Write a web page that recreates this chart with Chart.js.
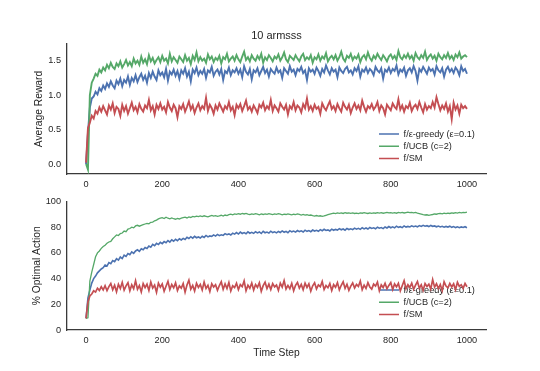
<!DOCTYPE html>
<html><head><meta charset="utf-8">
<script src="https://cdn.jsdelivr.net/npm/chart.js@4"></script>
<style>
html,body{margin:0;padding:0;background:#fff;}
#wrap{position:relative;width:540px;height:371px;overflow:hidden;background:#fff;}
canvas{position:absolute;left:0;}
#c1{top:0;}
#c2{top:190px;}
</style></head><body>
<div id="wrap"><canvas id="c1" width="540" height="190"></canvas><canvas id="c2" width="540" height="181"></canvas></div>
<script>
// ---- categories (time steps) ----
const steps = [
0,5,10,15,20,25,30,35,40,45,50,55,60,65,70,75,80,85,90,95,
100,105,110,115,120,125,130,135,140,145,150,155,160,165,170,175,180,185,190,195,
200,205,210,215,220,225,230,235,240,245,250,255,260,265,270,275,280,285,290,295,
300,305,310,315,320,325,330,335,340,345,350,355,360,365,370,375,380,385,390,395,
400,405,410,415,420,425,430,435,440,445,450,455,460,465,470,475,480,485,490,495,
500,505,510,515,520,525,530,535,540,545,550,555,560,565,570,575,580,585,590,595,
600,605,610,615,620,625,630,635,640,645,650,655,660,665,670,675,680,685,690,695,
700,705,710,715,720,725,730,735,740,745,750,755,760,765,770,775,780,785,790,795,
800,805,810,815,820,825,830,835,840,845,850,855,860,865,870,875,880,885,890,895,
900,905,910,915,920,925,930,935,940,945,950,955,960,965,970,975,980,985,990,995,
1000];

const seriesNames = ['f/ε-greedy (ε=0.1)', 'f/UCB (c=2)', 'f/SM'];

// ---- Average Reward ----
const rewardGreedy = [
0.00,0.45,0.82,0.95,0.98,1.05,1.01,1.10,1.06,1.14,
1.09,1.17,1.12,1.20,1.14,1.10,1.21,1.16,1.24,1.13,
1.22,1.18,1.27,1.15,1.25,1.20,1.29,1.19,1.26,1.31,
1.22,1.28,1.18,1.32,1.25,1.34,1.27,1.22,1.36,1.29,
1.33,1.26,1.38,1.21,1.34,1.30,1.37,1.28,1.35,1.24,
1.36,1.31,1.39,1.27,1.34,1.20,1.37,1.32,1.40,1.29,
1.35,1.31,1.38,1.25,1.36,1.33,1.41,1.28,1.34,1.37,
1.30,1.38,1.22,1.35,1.32,1.40,1.29,1.36,1.33,1.39,
1.31,1.37,1.26,1.42,1.34,1.30,1.38,1.23,1.36,1.33,
1.39,1.29,1.35,1.41,1.32,1.37,1.27,1.38,1.34,1.31,
1.40,1.33,1.36,1.25,1.39,1.35,1.31,1.42,1.34,1.37,
1.29,1.38,1.35,1.41,1.32,1.36,1.22,1.39,1.34,1.37,
1.31,1.40,1.35,1.28,1.38,1.33,1.43,1.36,1.30,1.39,
1.34,1.37,1.26,1.40,1.35,1.32,1.38,1.41,1.33,1.36,
1.30,1.39,1.35,1.42,1.27,1.37,1.34,1.40,1.32,1.38,
1.35,1.29,1.41,1.36,1.33,1.39,1.24,1.37,1.34,1.40,
1.32,1.38,1.35,1.43,1.30,1.37,1.34,1.40,1.28,1.36,
1.39,1.33,1.42,1.35,1.21,1.38,1.34,1.41,1.36,1.31,
1.40,1.35,1.38,1.30,1.42,1.36,1.33,1.39,1.27,1.37,
1.41,1.34,1.38,1.32,1.40,1.36,1.29,1.42,1.35,1.38,1.31];

const rewardUCB = [
0.00,-0.08,1.00,1.18,1.24,1.31,1.28,1.37,1.33,1.40,
1.36,1.44,1.39,1.47,1.41,1.38,1.46,1.42,1.49,1.40,
1.45,1.51,1.43,1.48,1.42,1.53,1.46,1.50,1.44,1.56,
1.47,1.52,1.45,1.58,1.49,1.54,1.46,1.51,1.55,1.48,
1.57,1.50,1.53,1.46,1.60,1.49,1.55,1.51,1.47,1.56,
1.52,1.48,1.58,1.50,1.54,1.45,1.57,1.51,1.62,1.49,
1.55,1.50,1.53,1.47,1.59,1.52,1.56,1.48,1.54,1.51,
1.57,1.46,1.55,1.52,1.60,1.49,1.53,1.56,1.50,1.58,
1.52,1.48,1.56,1.63,1.51,1.55,1.49,1.58,1.53,1.50,
1.57,1.52,1.60,1.47,1.55,1.51,1.58,1.54,1.49,1.56,
1.53,1.59,1.50,1.55,1.62,1.52,1.48,1.57,1.54,1.51,
1.58,1.53,1.49,1.56,1.60,1.51,1.55,1.52,1.58,1.47,
1.55,1.52,1.59,1.50,1.56,1.53,1.61,1.49,1.54,1.57,
1.52,1.58,1.50,1.55,1.63,1.53,1.49,1.57,1.54,1.60,
1.51,1.56,1.53,1.59,1.48,1.55,1.58,1.52,1.62,1.54,
1.50,1.57,1.53,1.60,1.55,1.51,1.58,1.54,1.49,1.56,
1.59,1.53,1.57,1.51,1.64,1.55,1.52,1.58,1.54,1.60,
1.53,1.57,1.50,1.61,1.55,1.52,1.58,1.54,1.63,1.51,
1.56,1.59,1.53,1.57,1.50,1.60,1.55,1.52,1.58,1.54,
1.61,1.53,1.57,1.51,1.59,1.55,1.62,1.53,1.56,1.58,1.55];

const rewardSM = [
0.02,0.52,0.60,0.70,0.66,0.77,0.73,0.82,0.76,0.84,
0.78,0.72,0.85,0.79,0.88,0.74,0.83,0.80,0.70,0.86,
0.77,0.84,0.73,0.81,0.89,0.78,0.83,0.75,0.87,0.80,
0.76,0.85,0.81,0.93,0.78,0.84,0.72,0.86,0.80,0.88,
0.79,0.83,0.75,0.90,0.82,0.77,0.86,0.81,0.68,0.84,
0.80,0.87,0.76,0.83,0.91,0.79,0.85,0.74,0.82,0.88,
0.78,0.84,0.80,0.96,0.77,0.86,0.81,0.73,0.85,0.79,
0.88,0.82,0.76,0.84,0.80,0.90,0.78,0.83,0.71,0.86,
0.81,0.87,0.77,0.84,0.92,0.79,0.83,0.76,0.85,0.80,
0.74,0.86,0.82,0.89,0.78,0.84,0.80,0.93,0.77,0.85,
0.81,0.76,0.88,0.83,0.79,0.86,0.72,0.84,0.80,0.90,
0.78,0.85,0.82,0.75,0.87,0.81,0.95,0.79,0.84,0.77,
0.86,0.80,0.83,0.73,0.88,0.82,0.78,0.85,0.91,0.80,
0.84,0.77,0.87,0.81,0.76,0.89,0.83,0.79,0.86,0.74,
0.82,0.88,0.80,0.85,0.78,0.92,0.83,0.76,0.84,0.81,
0.87,0.79,0.83,0.90,0.77,0.85,0.81,0.72,0.86,0.82,
0.78,0.88,0.83,0.80,0.94,0.79,0.85,0.76,0.84,0.81,
0.89,0.77,0.83,0.86,0.80,0.90,0.82,0.75,0.87,0.79,
0.84,0.81,0.90,0.82,0.97,0.87,0.78,0.85,0.80,0.88,
0.76,0.84,0.65,0.89,0.79,0.85,0.73,0.86,0.81,0.84,0.80];

// ---- % Optimal Action ----
const optGreedy = [
9,25,31,36.5,40,42,44.5,46,47.5,48.5,
50.5,49.8,52.5,51.6,54,53.2,55.5,54.4,56.8,55.6,
58.2,57.3,59.5,58.6,60.8,59.7,61.5,62.4,61.2,63.3,
62.5,64.2,63.4,65.4,64.5,66.7,65.6,67.4,66.5,68.2,
67.2,68.8,67.9,69.6,68.4,70.2,69.1,70.6,69.5,71,
70.1,71.3,70.4,72.2,71.2,72.6,71.5,72.9,71.8,72.4,
71.6,73,72.1,73.6,72.5,73.2,72.8,74,73.1,74.4,
73.4,74.1,73.6,75,74.2,74.8,73.9,75.4,74.6,75.8,
74.7,76.2,75.1,75.8,74.9,76.4,75.3,76,75.2,76.5,
75.6,76.3,75.1,76.8,75.7,76.2,75.4,76.9,75.8,76.4,
75.6,76.7,75.9,77.1,76.1,76.8,75.7,77.3,76.4,77,
76.2,77.4,76.6,77.2,76.3,77.7,76.8,77.4,76.5,77.8,
77,77.6,76.8,78.1,77.3,78.4,77.5,77.9,77.1,78.5,
77.6,78.3,77.8,78.9,78,78.6,77.7,79,78.2,78.8,
78.1,79.3,78.5,79.1,78.3,79.6,78.7,79.4,78.6,79.8,
79,79.5,78.8,80,79.2,79.7,78.9,80.2,79.4,80.5,
79.6,80.3,79.5,80.8,79.9,80.4,79.7,81,80.1,80.6,
80.2,81.1,80.4,80.9,80.3,81.3,80.6,81.5,80.8,81.2,
80.5,81.4,80.7,81,80.3,80.9,80.2,80.7,80,80.6,
80.1,80.8,79.9,80.5,79.7,80.3,79.6,80.2,79.8,80.4,79.6];

const optUCB = [
9,9.5,38,45,51,57,60,61.5,63.5,65,
66,67.5,68.5,69,71,72.5,74,73.5,75,75.5,
77,76.5,78.5,79,80,79.5,81,81.5,80.8,81.5,
82,82.5,83,82.6,83.8,84,85,85.5,86.5,87,
87.5,86.8,87.8,87,86.5,87.2,86.6,86.2,86.8,86.4,
87,87.4,87.8,87.2,88,87.6,88.4,88,88.6,88.2,
88.8,88.3,88.9,88.5,88.1,88.7,89.2,88.6,89,88.4,
88.8,89.3,88.7,89.5,89.1,89.8,90.2,89.7,90.4,90,
90.6,90.1,90.8,90.3,90.7,90.2,89.8,90.4,90,90.5,
90.1,89.7,90.3,89.9,90.4,90,90.6,90.2,89.8,90.3,
90,90.5,90.1,89.7,90.2,89.9,90.4,90,89.6,90.1,
89.8,90.3,89.9,89.5,89.9,89.4,89.7,89.2,89.5,89,
88.7,89.1,88.6,88.9,88.4,88.8,89.3,89.8,90.2,90.6,
91,90.6,91.2,90.8,91.1,90.7,91.3,90.9,91.2,90.8,
91.1,90.7,91,90.6,91.2,90.9,91.3,91,90.7,91.1,
90.8,91.2,90.9,91.4,91,91.3,90.9,91.2,91.5,91.1,
91.4,91,91.3,90.9,91.5,91.2,91.6,91.1,91.4,91.7,
91.3,91.6,91.2,91.5,91,90.6,90.2,89.8,89.5,89.7,
89.3,89.6,89.9,90.3,90.1,90.5,90.8,90.4,90.9,90.6,
91,90.7,91.2,90.9,91.3,91,91.5,91.2,91.6,91.4,91.8];

const optSM = [
9,22,26.5,28,30.5,29.5,32.5,30.8,33.6,31.2,
34.5,30.6,33.8,36.2,31.4,34.9,29.8,35.6,32.3,37.1,
31,34.4,36.8,30.5,35.2,32.1,38.3,31.7,34.6,29.6,
36.1,33,35.7,30.8,37.4,32.6,34.9,29.4,36.5,33.3,
35.8,30.2,34.1,37.9,31.5,35.4,32.8,36.7,30.7,34.3,
32.6,36.2,29.5,35,38.8,31.8,34.7,30.4,36.4,33.1,
35.5,31.2,37.3,32.4,34.8,29.9,36,33.5,35.2,30.9,
34.6,37.6,31.6,35.8,32.2,36.9,30.3,34.4,33,36.4,
31.4,35.3,33.7,38.2,30.6,34.9,32.5,36.6,31.1,35.4,
33.2,36.8,30.1,34.5,37.2,32.3,35.7,31.5,36.1,33.6,
35,30.8,36.5,33.4,38.5,31.9,34.7,32.1,36.3,30.5,
34.8,37,32.6,35.5,31.3,36.4,33.1,35.9,30.2,34.4,
36.7,32,35.1,33.7,37.8,31.6,34.6,32.9,36.2,30.7,
35.3,33.3,36.9,31.2,34.8,37.5,32.4,35.6,30.9,34.1,
36.6,32.7,35.4,33.9,38.1,31.4,34.9,32.3,36.8,33.5,
31.8,35.7,34.2,37.3,30.6,35.1,33,36.4,32.1,34.7,
37,31.5,35.8,33.6,36.3,30.4,34.5,38.4,32.2,35.3,
33.1,36.5,31.7,34.9,37.7,32.5,35.2,30.8,36.1,33.8,
35.6,31.9,39.2,33.4,36,32.2,35.4,30.6,37.5,34.2,
32.8,36.3,33.5,35.9,31.3,37.1,33.9,35.1,32.4,36.2,33.7];

// ---- tick labels ----
const xTicks = [0, 200, 400, 600, 800, 1000];
const rewardTicks = [0, 0.5, 1.0, 1.5];
const optTicks = [0, 20, 40, 60, 80, 100];

const colors = ['#4C72B0', '#55A868', '#C44E52'];
const TXT = '#262626';
const SPINE = '#3a3a3a';
const FAM = "'Liberation Sans', Arial, sans-serif";

const legendPlace = {
  id: 'legendPlace',
  afterLayout(chart, args, opts) {
    const lg = chart.legend;
    if (!lg) return;
    const w = lg.width, h = lg.height;
    lg.left = opts.x; lg.right = opts.x + w;
    lg.top = opts.y; lg.bottom = opts.y + h;
  }
};

function toXY(vals) { return vals.map((v, i) => ({ x: steps[i], y: v })); }

function makeChart(canvas, cfg) {
  const datasets = cfg.series.map((vals, k) => ({
    label: seriesNames[k],
    data: toXY(vals),
    borderColor: colors[k],
    backgroundColor: colors[k],
    borderWidth: cfg.lineWidths[k],
    pointRadius: 0,
    tension: 0,
    fill: false,
    order: 2 - k
  }));
  return new Chart(canvas, {
    type: 'line',
    data: { datasets },
    plugins: [legendPlace],
    options: {
      responsive: false,
      animation: false,
      events: [],
      layout: { padding: { left: 0, right: 54, top: cfg.padTop, bottom: 0 } },
      plugins: {
        tooltip: { enabled: false },
        title: cfg.title ? {
          display: true, text: cfg.title, fullSize: false, color: TXT,
          font: { family: FAM, size: 11, weight: 'normal' },
          padding: { top: 29.4, bottom: 1.4 }
        } : { display: false },
        legend: {
          display: true, position: 'chartArea', align: 'start',
          labels: {
            usePointStyle: true, pointStyle: 'line', pointStyleWidth: 20, boxWidth: 20,
            color: TXT, padding: 3,
            font: { family: FAM, size: 9.2 },
            generateLabels: chart => chart.data.datasets.map((ds, i) => ({
              text: ds.label, fillStyle: ds.borderColor, strokeStyle: ds.borderColor,
              lineWidth: 1.5, pointStyle: 'line', fontColor: TXT, hidden: false, datasetIndex: i
            }))
          }
        },
        legendPlace: { x: 376, y: cfg.legendY }
      },
      scales: {
        x: {
          type: 'linear', min: -50, max: 1050,
          afterBuildTicks: s => { s.ticks = xTicks.map(v => ({ value: v })); },
          afterFit: s => { s.height = cfg.xHeight; },
          grid: { display: false, drawTicks: false },
          border: { display: true, color: SPINE, width: 1.3 },
          ticks: { color: TXT, padding: 4.5, maxRotation: 0, autoSkip: false,
                   font: { family: FAM, size: 9.2 }, callback: v => String(v) },
          title: cfg.xTitle ? { display: true, text: cfg.xTitle, color: TXT,
                   font: { family: FAM, size: 10.3 }, padding: { top: 0, bottom: 11.8 } } : { display: false }
        },
        y: {
          type: 'linear', min: cfg.yMin, max: cfg.yMax,
          afterBuildTicks: s => { s.ticks = cfg.yTicks.map(v => ({ value: v })); },
          afterFit: s => { s.width = 67; },
          grid: { display: false, drawTicks: false },
          border: { display: true, color: SPINE, width: 1.3 },
          ticks: { color: TXT, padding: 6, autoSkip: false,
                   font: { family: FAM, size: 9.2 }, callback: cfg.yFmt },
          title: { display: true, text: cfg.yTitle, color: TXT,
                   font: { family: FAM, size: 10.3 }, padding: { top: cfg.yTitlePad, bottom: 0 } }
        }
      }
    }
  });
}

makeChart(document.getElementById('c1'), {
  series: [rewardGreedy, rewardUCB, rewardSM],
  title: '10 armsss', padTop: 0, xHeight: 16, lineWidths: [1.9, 1.9, 1.9],
  yMin: -0.145, yMax: 1.742, yTicks: rewardTicks, yFmt: v => Number(v).toFixed(1),
  yTitle: 'Average Reward', yTitlePad: 33.2, legendY: 126.4
});

makeChart(document.getElementById('c2'), {
  series: [optGreedy, optUCB, optSM],
  title: null, padTop: 10.5, xHeight: 41, lineWidths: [1.6, 1.3, 1.7], xTitle: 'Time Step',
  yMin: 0, yMax: 100, yTicks: optTicks, yFmt: v => String(v),
  yTitle: '% Optimal Action', yTitlePad: 30.8, legendY: 92.4
});
</script>
</body></html>
